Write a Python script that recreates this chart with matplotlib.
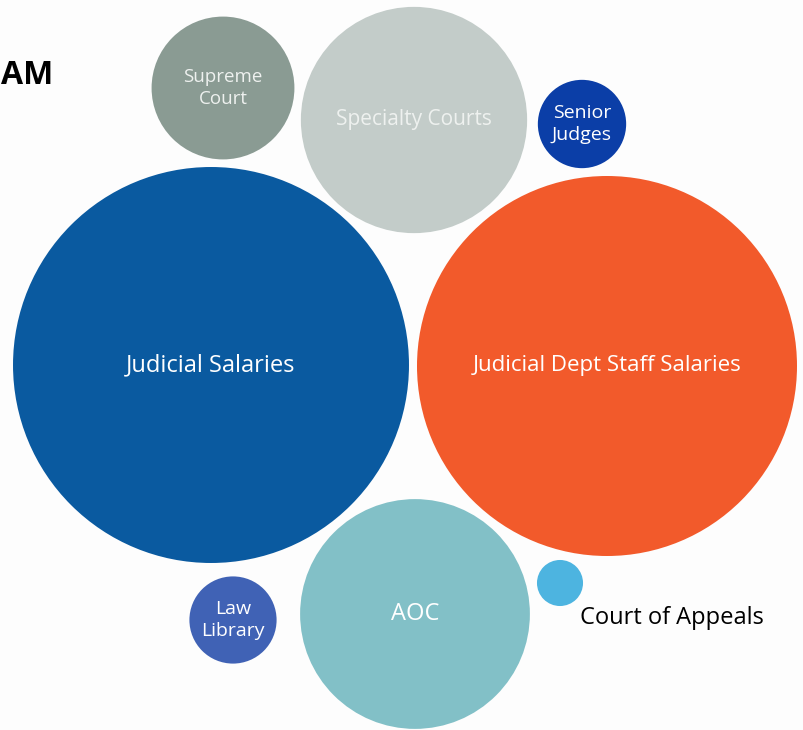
import matplotlib
matplotlib.use('Agg')
import matplotlib.pyplot as plt
from matplotlib.patches import Circle

plt.rcParams['font.family'] = ['Open Sans', 'DejaVu Sans']

# Relative budget sizes (bubble area ~ value)
labels = ['Judicial Salaries', 'Judicial Dept Staff Salaries', 'AOC', 'Specialty Courts',
          'Supreme\nCourt', 'Senior\nJudges', 'Law\nLibrary', 'Court of Appeals']
values = [39.2, 36.1, 13.2, 12.8, 5.1, 1.95, 1.9, 0.53]
colors = ['#0a5aa0', '#f25a2b', '#82c0c7', '#c3ccc9', '#8a9b93', '#0b3ea7', '#4062b5', '#4db4e0']
text_colors = ['white', 'white', 'white', '#eef1ef', '#eef1ef', 'white', 'white', 'black']
font_sizes = [17, 16, 17, 15, 13.5, 14, 14, 17]

# layout of packed bubbles (pixel space)
pos_x = [211, 607, 415, 414, 223, 582, 233, 560]
pos_y = [365, 366, 614, 120, 88, 124, 620, 583]

fig = plt.figure(figsize=(8.04, 7.30), dpi=100)
fig.patch.set_facecolor('#fdfdfd')
ax = fig.add_axes([0, 0, 1, 1])
ax.set_xlim(0, 804)
ax.set_ylim(730, 0)
ax.set_aspect('equal')
ax.axis('off')

for i in range(len(labels)):
    r = (values[i] * 1000) ** 0.5
    ax.add_patch(Circle((pos_x[i], pos_y[i]), r, color=colors[i], lw=0))
    if labels[i] == 'Court of Appeals':
        ax.text(580, 618, labels[i], color=text_colors[i], fontsize=font_sizes[i],
                ha='left', va='center')
    else:
        ax.text(pos_x[i], pos_y[i], labels[i], color=text_colors[i],
                fontsize=font_sizes[i], ha='center', va='center', linespacing=1.25)

# title fragment at top-left
ax.text(1, 76, 'AM', fontsize=23, fontweight='bold', color='black', ha='left', va='center')

fig.savefig('out.png', dpi=100, facecolor=fig.get_facecolor())
